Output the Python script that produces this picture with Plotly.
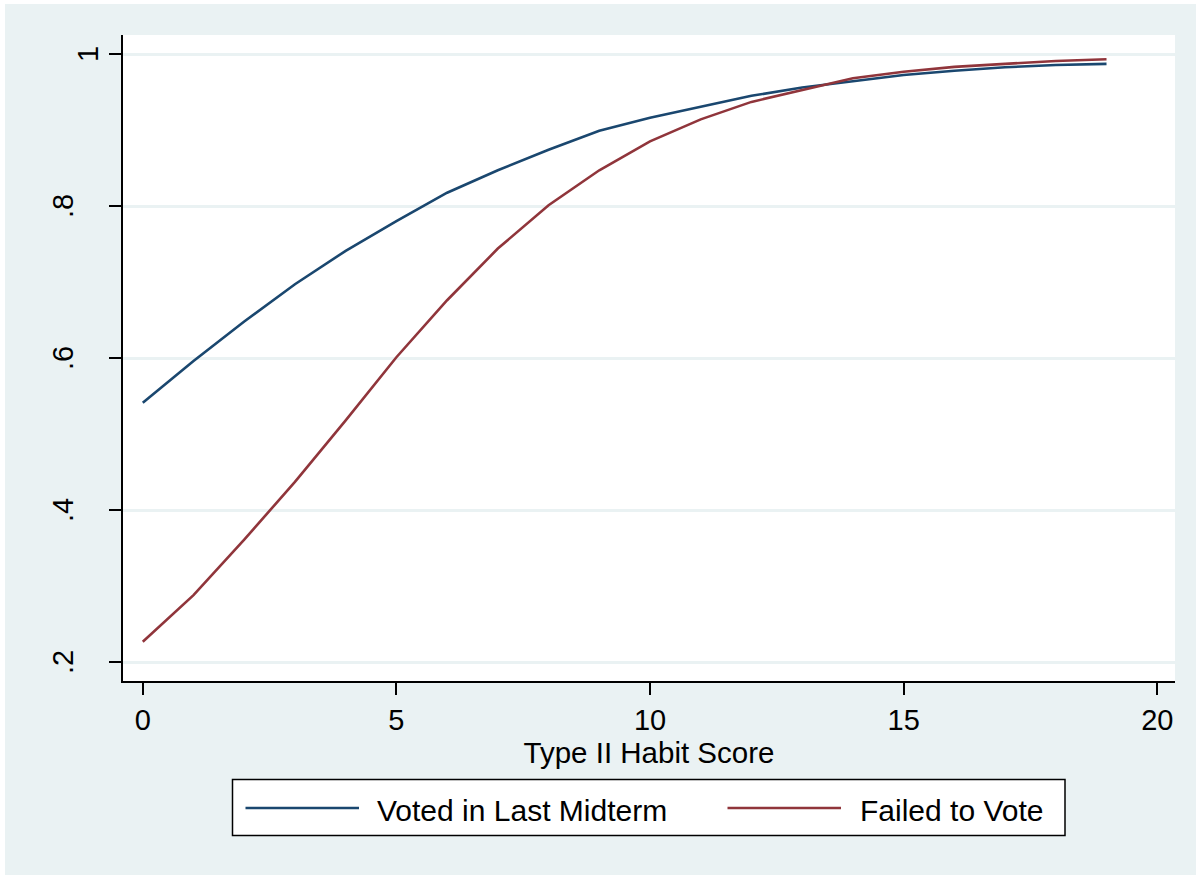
import plotly.graph_objects as go

# ---- data ----
habit_score = list(range(20))
voted_last_midterm = [0.541, 0.596, 0.648, 0.697, 0.741, 0.780, 0.8175, 0.847, 0.874, 0.899,
                      0.916, 0.931, 0.945, 0.956, 0.9645, 0.9724, 0.978, 0.9825, 0.9855, 0.987]
failed_to_vote = [0.2267, 0.288, 0.361, 0.437, 0.518, 0.601, 0.676, 0.744, 0.801, 0.847,
                  0.885, 0.914, 0.937, 0.953, 0.968, 0.9767, 0.983, 0.987, 0.9908, 0.993]
series_names = ["Voted in Last Midterm", "Failed to Vote"]
x_tick_vals = [0, 5, 10, 15, 20]
x_tick_text = ["0", "5", "10", "15", "20"]
y_tick_vals = [0.2, 0.4, 0.6, 0.8, 1.0]
y_tick_text = [".2", ".4", ".6", ".8", "1"]
x_title = "Type II Habit Score"

# ---- layout geometry (pixels) ----
W, H = 1196, 875
L, R, T, B = 123, 1175, 35, 681
PW, PH = R - L, B - T

def xp(px):
    return (px - L) / PW

def yp(py):
    return (B - py) / PH

BG = "#EAF2F3"
BLUE = "#1A476F"
RED = "#90353B"
FONT = "Liberation Sans, Arial, sans-serif"

fig = go.Figure()
fig.add_trace(go.Scatter(x=habit_score, y=voted_last_midterm, mode="lines",
                         name=series_names[0], line=dict(color=BLUE, width=2.6),
                         showlegend=False))
fig.add_trace(go.Scatter(x=habit_score, y=failed_to_vote, mode="lines",
                         name=series_names[1], line=dict(color=RED, width=2.6),
                         showlegend=False))

shapes = []
annotations = []
# white strips at top and left of page
shapes.append(dict(type="rect", xref="paper", yref="paper", x0=xp(-10), x1=xp(W + 10),
                   y0=yp(4), y1=yp(-10), fillcolor="white", line=dict(width=0), layer="below"))
shapes.append(dict(type="rect", xref="paper", yref="paper", x0=xp(-10), x1=xp(5),
                   y0=yp(H + 10), y1=yp(-10), fillcolor="white", line=dict(width=0), layer="below"))

# legend box
shapes.append(dict(type="rect", xref="paper", yref="paper", x0=xp(232.5), x1=xp(1065),
                   y0=yp(835.5), y1=yp(779.5), fillcolor="white",
                   line=dict(color="black", width=1.5), layer="above"))
leg_y = yp(808)
shapes.append(dict(type="line", xref="paper", yref="paper", x0=xp(245.5), x1=xp(359),
                   y0=leg_y, y1=leg_y, line=dict(color=BLUE, width=2.6), layer="above"))
shapes.append(dict(type="line", xref="paper", yref="paper", x0=xp(727.5), x1=xp(841),
                   y0=leg_y, y1=leg_y, line=dict(color=RED, width=2.6), layer="above"))
annotations.append(dict(xref="paper", yref="paper", x=xp(375), y=yp(810), text=series_names[0],
                        showarrow=False, xanchor="left", yanchor="middle",
                        font=dict(family=FONT, size=30, color="black")))
annotations.append(dict(xref="paper", yref="paper", x=xp(858), y=yp(810), text=series_names[1],
                        showarrow=False, xanchor="left", yanchor="middle",
                        font=dict(family=FONT, size=30, color="black")))

# y tick labels (rotated)
for v, t in zip(y_tick_vals, y_tick_text):
    cx = 88 if t == "1" else 63
    annotations.append(dict(xref="paper", yref="y", x=xp(cx), y=v, text=t, textangle=-90,
                            showarrow=False, xanchor="center", yanchor="middle",
                            font=dict(family=FONT, size=29, color="black")))

fig.update_layout(
    width=W, height=H,
    margin=dict(l=L, r=W - R, t=T, b=H - B, pad=0),
    paper_bgcolor=BG, plot_bgcolor="white",
    shapes=shapes, annotations=annotations,
    showlegend=False,
    xaxis=dict(range=[-0.39, 20.35], tickvals=x_tick_vals, ticktext=x_tick_text,
               showgrid=False, zeroline=False, showline=True, linecolor="black", linewidth=1.8,
               ticks="outside", ticklen=12, tickwidth=1.5, tickcolor="black",
               tickfont=dict(family=FONT, size=29, color="black"),
               title=dict(text=x_title, font=dict(family=FONT, size=29.5, color="black"), standoff=2)),
    yaxis=dict(range=[0.175, 1.025], tickvals=y_tick_vals, showticklabels=False,
               showgrid=True, gridcolor=BG, gridwidth=2.5, zeroline=False,
               showline=True, linecolor="black", linewidth=1.8,
               ticks="outside", ticklen=12, tickwidth=1.5, tickcolor="black"),
)

fig.write_html("out.html")
